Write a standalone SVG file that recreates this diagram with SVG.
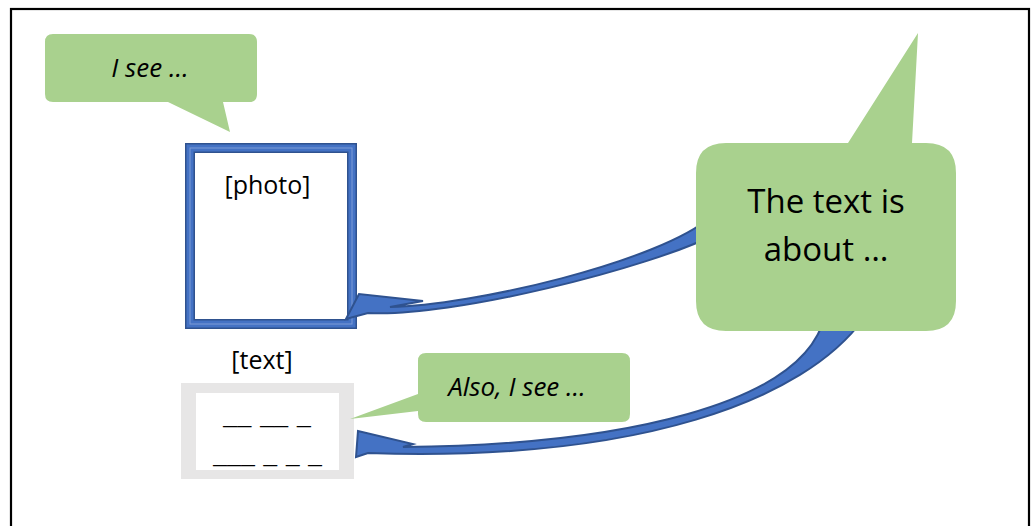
<svg xmlns="http://www.w3.org/2000/svg" width="1032" height="526" viewBox="0 0 1032 526">
<style>
.bub{fill:#A9D18E;}
.arr{fill:#4472C4;stroke:#2F528F;stroke-width:2;stroke-linejoin:miter;}
.t{font-family:"Open Sans","Noto Sans",sans-serif;fill:#000;text-anchor:middle;}
.it{font-style:italic;}
</style>
<rect width="1032" height="526" fill="#fff"/>
<rect x="11" y="9" width="1018" height="540" fill="none" stroke="#000" stroke-width="2.2"/>

<g id="photo">
<rect x="185" y="143" width="172" height="186" fill="#2F528F"/>
<rect x="186.5" y="144.5" width="169" height="183" fill="#4472C4"/>
<rect x="190" y="148" width="162" height="176" fill="none" stroke="#7C9BD6" stroke-width="1"/>
<rect x="193.5" y="151.5" width="155" height="169" fill="#2F528F"/>
<rect x="195" y="153" width="152" height="166" fill="#fff"/>
<text class="t" x="267.5" y="194" font-size="25">[photo]</text>
</g>

<g id="textbox">
<text class="t" x="262" y="369" font-size="25">[text]</text>
<rect x="181" y="383" width="173" height="96" fill="#E7E6E6"/>
<rect x="196" y="393" width="143" height="77" fill="#fff"/>
<text class="t" x="267" y="424" font-size="21" textLength="88" lengthAdjust="spacingAndGlyphs">__ __ _</text>
<text class="t" x="267.5" y="463" font-size="21" textLength="109" lengthAdjust="spacingAndGlyphs">___ _ _ _</text>
</g>

<g id="connectors">
<path class="arr" d="M 712,216 C 660,262 470,306 390,307 L 423,301 L 359,294 L 346,319 L 368,313 C 450,318 650,268 716,234 Z"/>
<path class="arr" d="M 825,315 C 805,405 620,445 403,447 L 413,444 L 358,431 L 356,457 L 368,453 C 640,462 805,400 864,318 Z"/>
</g>

<g id="bubble-isee">
<path class="bub" d="M 53,34 H 249 Q 257,34 257,42 V 94 Q 257,102 249,102 H 223 L 230,132 L 168,102 H 53 Q 45,102 45,94 V 42 Q 45,34 53,34 Z"/>
<text class="t it" x="150" y="77" font-size="26">I see …</text>
</g>

<g id="bubble-also">
<path class="bub" d="M 426,353 H 622 Q 630,353 630,361 V 414 Q 630,422 622,422 H 426 Q 418,422 418,414 V 411 L 350,419 L 418,394 V 361 Q 418,353 426,353 Z"/>
<text class="t it" x="517" y="396" font-size="26">Also, I see …</text>
</g>

<g id="bubble-about">
<path class="bub" d="M 726,143 H 848 L 918,33 L 912,143 H 926 Q 956,143 956,173 V 301 Q 956,331 926,331 H 726 Q 696,331 696,301 V 173 Q 696,143 726,143 Z"/>
<text class="t" x="826" y="213" font-size="33">The text is</text>
<text class="t" x="826" y="261" font-size="33">about …</text>
</g>
</svg>
